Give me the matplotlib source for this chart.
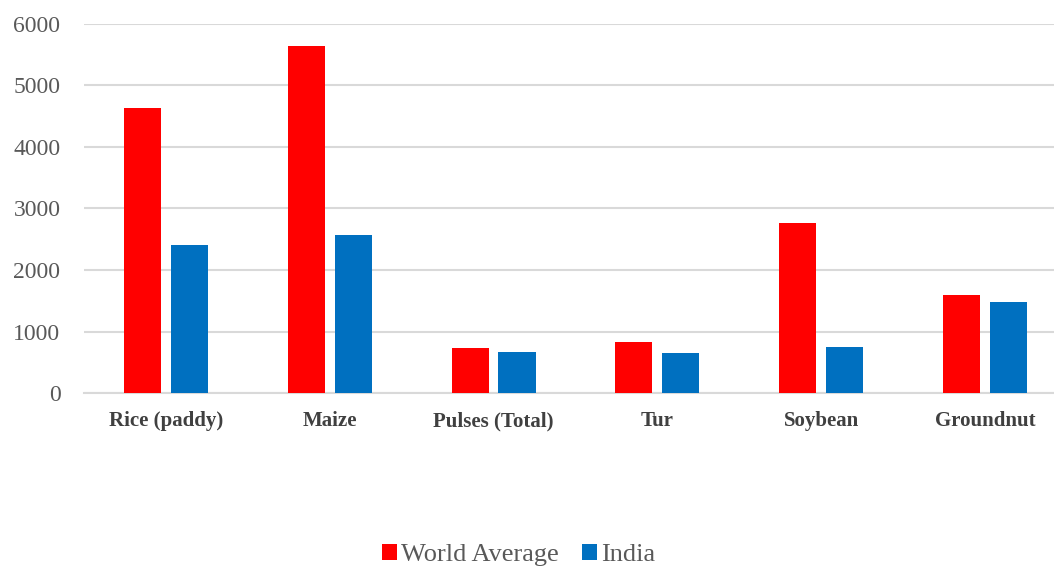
import matplotlib.pyplot as plt
import numpy as np

crops = ['Rice (paddy)', 'Maize', 'Pulses (Total)', 'Tur', 'Soybean', 'Groundnut']
world_avg = [4630, 5635, 733, 826, 2759, 1586]
india = [2410, 2573, 668, 658, 756, 1477]

RED = '#ff0000'
BLUE = '#0070c0'
GRID = '#d9d9d9'
TXT = '#595959'

plt.rcParams['font.family'] = ['Liberation Serif', 'DejaVu Serif']

fig = plt.figure(figsize=(10.54, 5.70), dpi=100)
ax = fig.add_axes([0.0797, 0.3105, 0.9326, 0.6475])

x = np.arange(len(crops))
w = 0.226
ax.bar(x - 0.143, world_avg, w, color=RED, label='World Average', zorder=3)
ax.bar(x + 0.143, india, w, color=BLUE, label='India', zorder=3)

ax.set_xlim(-0.5, len(crops) - 0.5)
ax.set_ylim(0, 6000)
ax.set_yticks(range(0, 6001, 1000))
ax.yaxis.grid(True, color=GRID, linewidth=1.5, zorder=0)
for s in ['top', 'right', 'left']:
    ax.spines[s].set_visible(False)
ax.spines['bottom'].set_color(GRID)
ax.spines['bottom'].set_linewidth(1.5)
ax.tick_params(axis='both', length=0)
ax.tick_params(axis='y', labelsize=17, labelcolor=TXT, pad=17)
ax.set_xticks(x)
ax.set_xticklabels(crops, fontsize=15, fontweight='bold', color='#404040')
ax.tick_params(axis='x', pad=13)

leg = fig.legend(loc='lower center', bbox_to_anchor=(0.492, -0.035), ncol=2,
                 frameon=False, fontsize=19, handlelength=0.55, handleheight=0.55,
                 handletextpad=0.15, columnspacing=0.9)
for t in leg.get_texts():
    t.set_color(TXT)

fig.savefig('out.png', dpi=100)
